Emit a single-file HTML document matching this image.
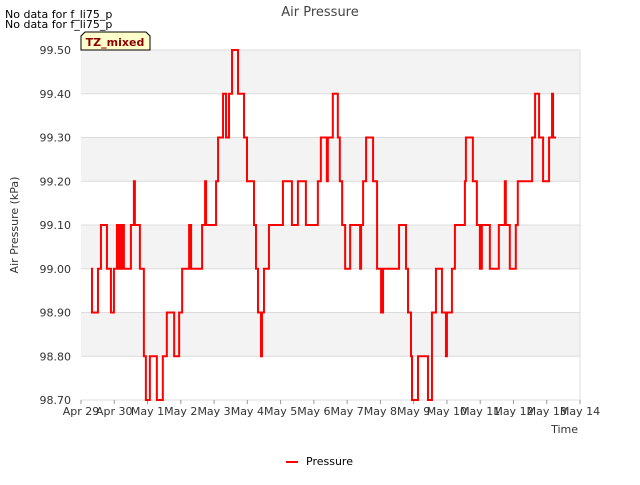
<!DOCTYPE html>
<html><head><meta charset="utf-8"><style>
body{margin:0;background:#fff;font-family:"Liberation Sans",sans-serif}
svg text{font-family:"DejaVu Sans","Liberation Sans",sans-serif}
</style></head><body>
<svg id="chart" width="640" height="480" xmlns="http://www.w3.org/2000/svg">
<rect width="640" height="480" fill="#fff"/>
<text x="5" y="18" font-size="11" fill="#000">No data for f_li75_p</text>
<text x="5" y="28" font-size="11" fill="#000">No data for f_li75_p</text>
<text x="320" y="16" font-size="13" fill="#444" text-anchor="middle">Air Pressure</text>
<g id="bands"></g>
<g id="grid"></g>
<g id="yticks"></g>
<g id="xticks"></g>
<path id="line" fill="none" stroke="#ff0000" stroke-width="2"/>
<text transform="translate(18,225) rotate(-90)" font-size="11" fill="#333" text-anchor="middle">Air Pressure (kPa)</text>
<text x="578" y="433" font-size="11" fill="#333" text-anchor="end">Time</text>
<g>
<path d="M81,50 L81,36 L85,32 L146,32 L150,36 L150,50 Z" fill="#ffffcc" stroke="#000" stroke-width="1"/>
<text x="115" y="46" font-size="11" font-weight="bold" fill="#8b0000" text-anchor="middle">TZ_mixed</text>
</g>
<g>
<line x1="286" y1="462" x2="298" y2="462" stroke="#ff0000" stroke-width="2"/>
<text x="306" y="465" font-size="11" fill="#000">Pressure</text>
</g>
</svg>
<script>
const xTickLabels=["Apr 29","Apr 30","May 1","May 2","May 3","May 4","May 5","May 6","May 7","May 8","May 9","May 10","May 11","May 12","May 13","May 14"];
const yTickValues=[98.7,98.8,98.9,99.0,99.1,99.2,99.3,99.4,99.5];
const times=[0.30,0.33,0.51,0.60,0.78,0.90,0.99,1.08,1.11,1.14,1.17,1.23,1.29,1.50,1.59,1.62,1.77,1.89,1.95,2.07,2.28,2.46,2.58,2.80,2.95,3.04,3.25,3.31,3.64,3.73,3.76,4.06,4.12,4.27,4.36,4.45,4.54,4.72,4.90,4.99,5.20,5.26,5.32,5.41,5.44,5.50,5.65,6.07,6.34,6.52,6.76,7.12,7.21,7.39,7.42,7.57,7.72,7.78,7.85,7.94,8.09,8.39,8.42,8.48,8.57,8.78,8.90,9.02,9.08,9.56,9.77,9.83,9.92,9.95,10.13,10.43,10.55,10.67,10.85,10.97,11.00,11.15,11.24,11.54,11.57,11.78,11.90,11.99,12.05,12.29,12.56,12.74,12.77,12.89,13.07,13.13,13.56,13.65,13.77,13.89,14.07,14.16,14.19,14.28];
const pressure=[99.0,98.9,99.0,99.1,99.0,98.9,99.0,99.1,99.0,99.1,99.0,99.1,99.0,99.1,99.2,99.1,99.0,98.8,98.7,98.8,98.7,98.8,98.9,98.8,98.9,99.0,99.1,99.0,99.1,99.2,99.1,99.2,99.3,99.4,99.3,99.4,99.5,99.4,99.3,99.2,99.1,99.0,98.9,98.8,98.9,99.0,99.1,99.2,99.1,99.2,99.1,99.2,99.3,99.2,99.3,99.4,99.3,99.2,99.1,99.0,99.1,99.0,99.1,99.2,99.3,99.2,99.0,98.9,99.0,99.1,99.0,98.9,98.8,98.7,98.8,98.7,98.9,99.0,98.9,98.8,98.9,99.0,99.1,99.2,99.3,99.2,99.1,99.0,99.1,99.0,99.1,99.2,99.1,99.0,99.1,99.2,99.3,99.4,99.3,99.2,99.3,99.4,99.3,99.3];
const L=81,R=580,T=50,B=400,yMin=98.7,yMax=99.5,dMax=15;
const X=d=>L+(d/dMax)*(R-L);
const Y=v=>B-(v-yMin)/(yMax-yMin)*(B-T);
const NS="http://www.w3.org/2000/svg";
function mk(tag,attrs,parent){const e=document.createElementNS(NS,tag);for(const k in attrs)e.setAttribute(k,attrs[k]);parent.appendChild(e);return e;}
const bands=document.getElementById('bands'),grid=document.getElementById('grid'),yt=document.getElementById('yticks'),xt=document.getElementById('xticks');
const bg=mk('rect',{x:L,y:T,width:R-L,height:B-T,fill:'#fff'},bands);


for(let i=0;i<yTickValues.length-1;i++){
  if(i%2===1){const r=mk('rect',{x:L,y:Y(yTickValues[i+1]),width:R-L,height:Y(yTickValues[i])-Y(yTickValues[i+1]),fill:'#f3f3f3'},bands);
  
  }
}
yTickValues.forEach(v=>{
  const g=mk('line',{x1:L,x2:R,y1:Y(v),y2:Y(v),stroke:'#dcdcdc','stroke-width':1},grid);
  
  
  const t=mk('text',{x:L-10,y:Y(v)+4,'font-size':11,fill:'#333','text-anchor':'end'},yt);
  
  
  t.textContent=v.toFixed(2);
});
mk('line',{x1:R,x2:R,y1:T,y2:B,stroke:'#dcdcdc'},grid);
xTickLabels.forEach((s,i)=>{
  const tk=mk('line',{x1:X(i),x2:X(i),y1:B,y2:B+4,stroke:'#999'},xt);
  
  
  const t=mk('text',{x:X(i),y:B+15,'font-size':11,fill:'#333','text-anchor':'middle'},xt);
  
  
  t.textContent=s;
});
let d='';
for(let i=0;i<times.length;i++){
  const x=X(times[i]),y=Y(pressure[i]);
  if(i===0)d+='M'+x+','+y;else d+=' L'+x+','+Y(pressure[i-1])+' L'+x+','+y;
}
document.getElementById('line').setAttribute('d',d);
</script>
</body></html>
